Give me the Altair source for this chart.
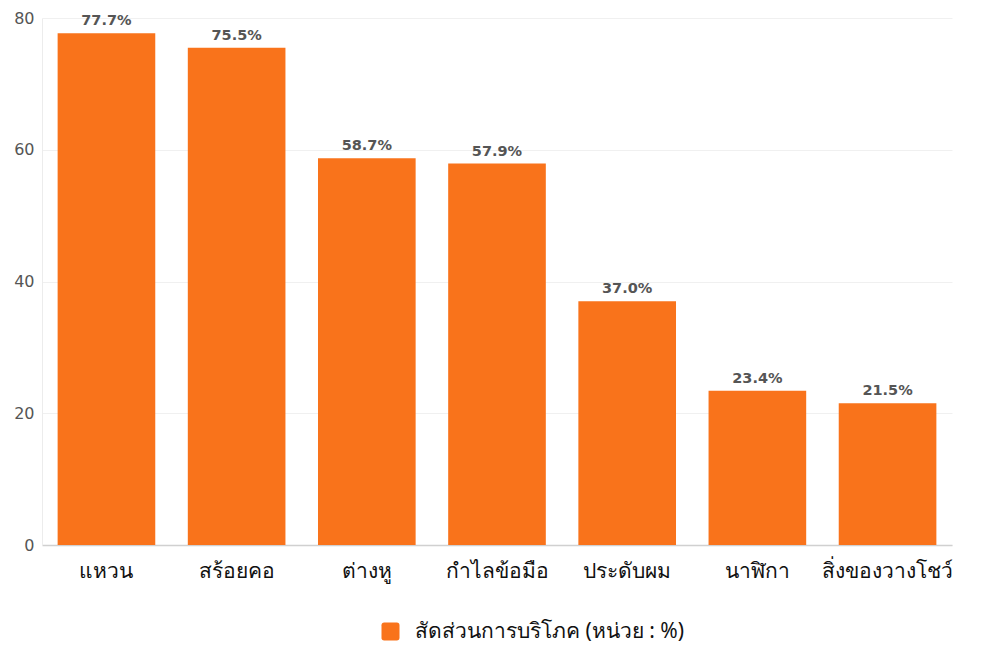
import altair as alt
import pandas as pd

categories = ["แหวน", "สร้อยคอ", "ต่างหู", "กำไลข้อมือ", "ประดับผม", "นาฬิกา", "สิ่งของวางโชว์"]
values = [77.7, 75.5, 58.7, 57.9, 37.0, 23.4, 21.5]
series_name = "สัดส่วนการบริโภค (หน่วย : %)"
y_ticks = [0, 20, 40, 60, 80]

df = pd.DataFrame({"category": categories, "value": values, "series": [series_name] * len(categories)})

ORANGE = "#F9731B"
rounded_sq = "M-0.7,-1 H0.7 Q1,-1 1,-0.7 V0.7 Q1,1 0.7,1 H-0.7 Q-1,1 -1,0.7 V-0.7 Q-1,-1 -0.7,-1 Z"

base = alt.Chart(df).encode(
    x=alt.X("category:N", sort=categories, title=None,
            scale=alt.Scale(paddingInner=0.25, paddingOuter=0.12),
            axis=alt.Axis(labelAngle=0, labelFontSize=21, labelColor="#111111",
                          labelFont="Noto Sans", labelPadding=15, ticks=False,
                          domainColor="#d0d0d0", domainWidth=1.5, grid=False)),
    y=alt.Y("value:Q", title=None,
            scale=alt.Scale(domain=[0, 80], nice=False),
            axis=alt.Axis(values=y_ticks, labelFontSize=16, labelColor="#555555",
                          labelFont="DejaVu Sans", labelPadding=8, ticks=False,
                          domainColor="#ececec", gridColor="#f0f0f0")),
)

bars = base.mark_bar(color=ORANGE).encode(
    color=alt.Color("series:N", scale=alt.Scale(range=[ORANGE]),
                    legend=alt.Legend(title=None, orient="none", legendX=338, legendY=603,
                                      symbolType=rounded_sq, symbolSize=324,
                                      symbolStrokeWidth=0, labelFontSize=21,
                                      labelFont="Noto Sans", labelColor="#111111",
                                      labelOffset=14, labelLimit=0))
)

labels = base.mark_text(baseline="bottom", dy=-5, fontSize=14.5, fontWeight="bold",
                        font="DejaVu Sans", color="#555555").transform_calculate(
    label="format(datum.value, '.1f') + '%'"
).encode(text="label:N")

chart = (bars + labels).properties(
    width=910, height=527,
    padding={"left": 42, "top": 18, "right": 41, "bottom": 102},
    autosize=alt.AutoSizeParams(type="none"),
    background="white",
).configure_view(stroke=None)

chart.save("out.html", embed_options={"renderer": "svg", "actions": False})
